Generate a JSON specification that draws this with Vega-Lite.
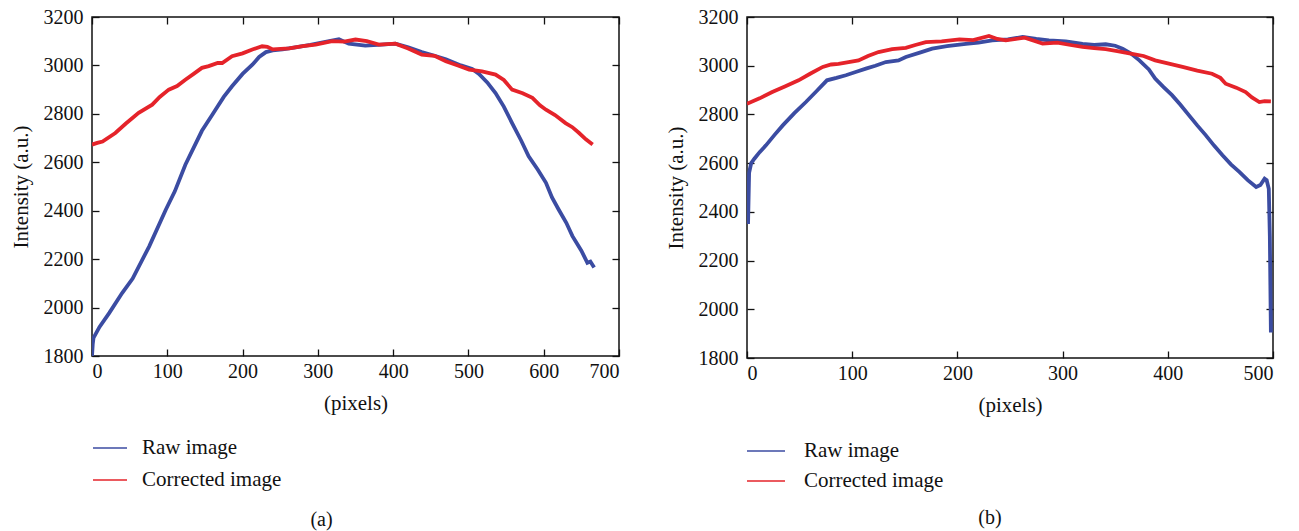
{
  "$schema": "https://vega.github.io/schema/vega-lite/v6.json",
  "padding": {"left": 9, "top": 6, "right": 5, "bottom": 0},
  "background": "white",
  "datasets": {
    "a": [
      {"x": 0, "y": 1800, "series": "Raw image"}, {"x": 1, "y": 1850, "series": "Raw image"}, {"x": 2, "y": 1875, "series": "Raw image"}, {"x": 10, "y": 1920, "series": "Raw image"}, {"x": 23, "y": 1978, "series": "Raw image"}, {"x": 40, "y": 2060, "series": "Raw image"}, {"x": 54, "y": 2120, "series": "Raw image"}, {"x": 76, "y": 2253, "series": "Raw image"}, {"x": 98, "y": 2404, "series": "Raw image"}, {"x": 110, "y": 2480, "series": "Raw image"}, {"x": 124, "y": 2590, "series": "Raw image"}, {"x": 146, "y": 2730, "series": "Raw image"}, {"x": 160, "y": 2797, "series": "Raw image"}, {"x": 175, "y": 2870, "series": "Raw image"}, {"x": 186, "y": 2914, "series": "Raw image"}, {"x": 200, "y": 2965, "series": "Raw image"}, {"x": 213, "y": 3003, "series": "Raw image"}, {"x": 222, "y": 3035, "series": "Raw image"}, {"x": 231, "y": 3055, "series": "Raw image"}, {"x": 240, "y": 3062, "series": "Raw image"}, {"x": 253, "y": 3066, "series": "Raw image"}, {"x": 270, "y": 3075, "series": "Raw image"}, {"x": 290, "y": 3085, "series": "Raw image"}, {"x": 315, "y": 3100, "series": "Raw image"}, {"x": 328, "y": 3108, "series": "Raw image"}, {"x": 341, "y": 3090, "series": "Raw image"}, {"x": 363, "y": 3082, "series": "Raw image"}, {"x": 385, "y": 3086, "series": "Raw image"}, {"x": 403, "y": 3090, "series": "Raw image"}, {"x": 420, "y": 3075, "series": "Raw image"}, {"x": 438, "y": 3055, "series": "Raw image"}, {"x": 455, "y": 3040, "series": "Raw image"}, {"x": 470, "y": 3025, "series": "Raw image"}, {"x": 490, "y": 3000, "series": "Raw image"}, {"x": 505, "y": 2985, "series": "Raw image"}, {"x": 514, "y": 2965, "series": "Raw image"}, {"x": 525, "y": 2930, "series": "Raw image"}, {"x": 536, "y": 2886, "series": "Raw image"}, {"x": 547, "y": 2830, "series": "Raw image"}, {"x": 558, "y": 2762, "series": "Raw image"}, {"x": 570, "y": 2690, "series": "Raw image"}, {"x": 580, "y": 2625, "series": "Raw image"}, {"x": 592, "y": 2570, "series": "Raw image"}, {"x": 603, "y": 2515, "series": "Raw image"}, {"x": 611, "y": 2455, "series": "Raw image"}, {"x": 620, "y": 2404, "series": "Raw image"}, {"x": 630, "y": 2350, "series": "Raw image"}, {"x": 638, "y": 2296, "series": "Raw image"}, {"x": 650, "y": 2235, "series": "Raw image"}, {"x": 658, "y": 2185, "series": "Raw image"}, {"x": 662, "y": 2190, "series": "Raw image"}, {"x": 667, "y": 2165, "series": "Raw image"},
      {"x": 0, "y": 2673, "series": "Corrected image"}, {"x": 7, "y": 2680, "series": "Corrected image"}, {"x": 14, "y": 2686, "series": "Corrected image"}, {"x": 31, "y": 2721, "series": "Corrected image"}, {"x": 45, "y": 2760, "series": "Corrected image"}, {"x": 62, "y": 2804, "series": "Corrected image"}, {"x": 80, "y": 2838, "series": "Corrected image"}, {"x": 90, "y": 2870, "series": "Corrected image"}, {"x": 102, "y": 2900, "series": "Corrected image"}, {"x": 113, "y": 2915, "series": "Corrected image"}, {"x": 124, "y": 2941, "series": "Corrected image"}, {"x": 135, "y": 2965, "series": "Corrected image"}, {"x": 146, "y": 2990, "series": "Corrected image"}, {"x": 155, "y": 2997, "series": "Corrected image"}, {"x": 167, "y": 3010, "series": "Corrected image"}, {"x": 173, "y": 3010, "series": "Corrected image"}, {"x": 186, "y": 3038, "series": "Corrected image"}, {"x": 200, "y": 3050, "series": "Corrected image"}, {"x": 213, "y": 3066, "series": "Corrected image"}, {"x": 226, "y": 3079, "series": "Corrected image"}, {"x": 233, "y": 3077, "series": "Corrected image"}, {"x": 240, "y": 3066, "series": "Corrected image"}, {"x": 262, "y": 3070, "series": "Corrected image"}, {"x": 280, "y": 3080, "series": "Corrected image"}, {"x": 297, "y": 3086, "series": "Corrected image"}, {"x": 319, "y": 3100, "series": "Corrected image"}, {"x": 335, "y": 3098, "series": "Corrected image"}, {"x": 350, "y": 3107, "series": "Corrected image"}, {"x": 365, "y": 3100, "series": "Corrected image"}, {"x": 381, "y": 3086, "series": "Corrected image"}, {"x": 403, "y": 3090, "series": "Corrected image"}, {"x": 420, "y": 3070, "series": "Corrected image"}, {"x": 438, "y": 3045, "series": "Corrected image"}, {"x": 455, "y": 3040, "series": "Corrected image"}, {"x": 470, "y": 3017, "series": "Corrected image"}, {"x": 486, "y": 3000, "series": "Corrected image"}, {"x": 501, "y": 2983, "series": "Corrected image"}, {"x": 518, "y": 2975, "series": "Corrected image"}, {"x": 536, "y": 2962, "series": "Corrected image"}, {"x": 547, "y": 2940, "series": "Corrected image"}, {"x": 558, "y": 2900, "series": "Corrected image"}, {"x": 572, "y": 2885, "series": "Corrected image"}, {"x": 585, "y": 2866, "series": "Corrected image"}, {"x": 595, "y": 2835, "series": "Corrected image"}, {"x": 603, "y": 2817, "series": "Corrected image"}, {"x": 615, "y": 2795, "series": "Corrected image"}, {"x": 629, "y": 2762, "series": "Corrected image"}, {"x": 638, "y": 2745, "series": "Corrected image"}, {"x": 647, "y": 2721, "series": "Corrected image"}, {"x": 656, "y": 2695, "series": "Corrected image"}, {"x": 665, "y": 2673, "series": "Corrected image"}
    ],
    "b": [
      {"x": 1, "y": 2350, "series": "Raw image"}, {"x": 2, "y": 2560, "series": "Raw image"}, {"x": 4, "y": 2600, "series": "Raw image"}, {"x": 7, "y": 2618, "series": "Raw image"}, {"x": 12, "y": 2645, "series": "Raw image"}, {"x": 18, "y": 2673, "series": "Raw image"}, {"x": 26, "y": 2715, "series": "Raw image"}, {"x": 34, "y": 2755, "series": "Raw image"}, {"x": 45, "y": 2805, "series": "Raw image"}, {"x": 56, "y": 2851, "series": "Raw image"}, {"x": 66, "y": 2895, "series": "Raw image"}, {"x": 76, "y": 2940, "series": "Raw image"}, {"x": 85, "y": 2950, "series": "Raw image"}, {"x": 94, "y": 2961, "series": "Raw image"}, {"x": 104, "y": 2975, "series": "Raw image"}, {"x": 113, "y": 2988, "series": "Raw image"}, {"x": 122, "y": 3000, "series": "Raw image"}, {"x": 132, "y": 3015, "series": "Raw image"}, {"x": 144, "y": 3022, "series": "Raw image"}, {"x": 151, "y": 3036, "series": "Raw image"}, {"x": 165, "y": 3055, "series": "Raw image"}, {"x": 176, "y": 3070, "series": "Raw image"}, {"x": 190, "y": 3080, "series": "Raw image"}, {"x": 208, "y": 3090, "series": "Raw image"}, {"x": 220, "y": 3095, "series": "Raw image"}, {"x": 233, "y": 3104, "series": "Raw image"}, {"x": 248, "y": 3108, "series": "Raw image"}, {"x": 262, "y": 3118, "series": "Raw image"}, {"x": 275, "y": 3110, "series": "Raw image"}, {"x": 287, "y": 3104, "series": "Raw image"}, {"x": 303, "y": 3100, "series": "Raw image"}, {"x": 319, "y": 3090, "series": "Raw image"}, {"x": 330, "y": 3085, "series": "Raw image"}, {"x": 341, "y": 3088, "series": "Raw image"}, {"x": 350, "y": 3082, "series": "Raw image"}, {"x": 357, "y": 3070, "series": "Raw image"}, {"x": 365, "y": 3050, "series": "Raw image"}, {"x": 373, "y": 3022, "series": "Raw image"}, {"x": 382, "y": 2985, "series": "Raw image"}, {"x": 388, "y": 2947, "series": "Raw image"}, {"x": 396, "y": 2912, "series": "Raw image"}, {"x": 404, "y": 2879, "series": "Raw image"}, {"x": 412, "y": 2840, "series": "Raw image"}, {"x": 420, "y": 2797, "series": "Raw image"}, {"x": 428, "y": 2755, "series": "Raw image"}, {"x": 436, "y": 2715, "series": "Raw image"}, {"x": 444, "y": 2672, "series": "Raw image"}, {"x": 452, "y": 2632, "series": "Raw image"}, {"x": 460, "y": 2595, "series": "Raw image"}, {"x": 468, "y": 2564, "series": "Raw image"}, {"x": 476, "y": 2530, "series": "Raw image"}, {"x": 484, "y": 2502, "series": "Raw image"}, {"x": 488, "y": 2510, "series": "Raw image"}, {"x": 492, "y": 2536, "series": "Raw image"}, {"x": 494, "y": 2530, "series": "Raw image"}, {"x": 496, "y": 2495, "series": "Raw image"}, {"x": 497, "y": 2300, "series": "Raw image"}, {"x": 497.5, "y": 2100, "series": "Raw image"}, {"x": 498, "y": 1905, "series": "Raw image"},
      {"x": 0, "y": 2844, "series": "Corrected image"}, {"x": 12, "y": 2866, "series": "Corrected image"}, {"x": 24, "y": 2892, "series": "Corrected image"}, {"x": 36, "y": 2915, "series": "Corrected image"}, {"x": 49, "y": 2940, "series": "Corrected image"}, {"x": 60, "y": 2967, "series": "Corrected image"}, {"x": 72, "y": 2995, "series": "Corrected image"}, {"x": 80, "y": 3005, "series": "Corrected image"}, {"x": 87, "y": 3008, "series": "Corrected image"}, {"x": 106, "y": 3022, "series": "Corrected image"}, {"x": 115, "y": 3040, "series": "Corrected image"}, {"x": 125, "y": 3056, "series": "Corrected image"}, {"x": 138, "y": 3068, "series": "Corrected image"}, {"x": 151, "y": 3073, "series": "Corrected image"}, {"x": 160, "y": 3085, "series": "Corrected image"}, {"x": 170, "y": 3097, "series": "Corrected image"}, {"x": 185, "y": 3100, "series": "Corrected image"}, {"x": 202, "y": 3108, "series": "Corrected image"}, {"x": 215, "y": 3105, "series": "Corrected image"}, {"x": 230, "y": 3122, "series": "Corrected image"}, {"x": 238, "y": 3110, "series": "Corrected image"}, {"x": 246, "y": 3104, "series": "Corrected image"}, {"x": 264, "y": 3115, "series": "Corrected image"}, {"x": 281, "y": 3091, "series": "Corrected image"}, {"x": 295, "y": 3095, "series": "Corrected image"}, {"x": 309, "y": 3084, "series": "Corrected image"}, {"x": 319, "y": 3077, "series": "Corrected image"}, {"x": 330, "y": 3072, "series": "Corrected image"}, {"x": 341, "y": 3068, "series": "Corrected image"}, {"x": 352, "y": 3060, "series": "Corrected image"}, {"x": 366, "y": 3049, "series": "Corrected image"}, {"x": 377, "y": 3040, "series": "Corrected image"}, {"x": 388, "y": 3022, "series": "Corrected image"}, {"x": 400, "y": 3010, "series": "Corrected image"}, {"x": 414, "y": 2995, "series": "Corrected image"}, {"x": 428, "y": 2980, "series": "Corrected image"}, {"x": 442, "y": 2967, "series": "Corrected image"}, {"x": 450, "y": 2950, "series": "Corrected image"}, {"x": 455, "y": 2926, "series": "Corrected image"}, {"x": 465, "y": 2910, "series": "Corrected image"}, {"x": 474, "y": 2892, "series": "Corrected image"}, {"x": 480, "y": 2870, "series": "Corrected image"}, {"x": 487, "y": 2851, "series": "Corrected image"}, {"x": 492, "y": 2855, "series": "Corrected image"}, {"x": 498, "y": 2854, "series": "Corrected image"}
    ]
  },
  "hconcat": [
    {
      "width": 527,
      "height": 339,
      "data": {"name": "a"},
      "title": {"text": "(a)", "orient": "bottom", "offset": 20, "dx": -34},
      "layer": [
        {
          "mark": {"type": "line", "strokeWidth": 3.8, "clip": true},
          "encoding": {
            "x": {"field": "x", "type": "quantitative", "scale": {"domain": [0, 700], "nice": false}, "axis": {"values": [0, 100, 200, 300, 400, 500, 600, 700], "format": "d", "title": "(pixels)", "titlePadding": 11}},
            "y": {"field": "y", "type": "quantitative", "scale": {"domain": [1800, 3200], "nice": false}, "axis": {"values": [1800, 2000, 2200, 2400, 2600, 2800, 3000, 3200], "format": "d", "title": "Intensity (a.u.)", "titlePadding": 12}},
            "color": {"field": "series", "type": "nominal", "sort": ["Raw image", "Corrected image"], "scale": {"domain": ["Raw image", "Corrected image"], "range": ["#3b4ca2", "#e5232a"]},
              "legend": {"orient": "none", "legendX": 0, "legendY": 413, "title": null, "symbolSize": 1156, "labelOffset": 14, "rowPadding": 4, "labelExpr": "datum.label == 'Raw image' ? '\u00a0Raw image' : datum.label"}}
          }
        },
        {
          "mark": {"type": "point", "opacity": 0},
          "encoding": {
            "x": {"field": "x", "type": "quantitative", "axis": {"orient": "top", "values": [0, 100, 200, 300, 400, 500, 600, 700], "labels": false, "title": null}},
            "y": {"field": "y", "type": "quantitative", "axis": {"orient": "right", "values": [1800, 2000, 2200, 2400, 2600, 2800, 3000, 3200], "labels": false, "title": null}}
          }
        }
      ],
      "resolve": {"axis": {"x": "independent", "y": "independent"}}
    },
    {
      "width": 526,
      "height": 341,
      "data": {"name": "b"},
      "title": {"text": "(b)", "orient": "bottom", "offset": 17, "dx": -20},
      "layer": [
        {
          "mark": {"type": "line", "strokeWidth": 3.8, "clip": true},
          "encoding": {
            "x": {"field": "x", "type": "quantitative", "scale": {"domain": [0, 500], "nice": false}, "axis": {"values": [0, 100, 200, 300, 400, 500], "format": "d", "title": "(pixels)", "titlePadding": 11}},
            "y": {"field": "y", "type": "quantitative", "scale": {"domain": [1800, 3200], "nice": false}, "axis": {"values": [1800, 2000, 2200, 2400, 2600, 2800, 3000, 3200], "format": "d", "title": "Intensity (a.u.)", "titlePadding": 12}},
            "color": {"field": "series", "type": "nominal", "sort": ["Raw image", "Corrected image"], "scale": {"domain": ["Raw image", "Corrected image"], "range": ["#3b4ca2", "#e5232a"]},
              "legend": {"orient": "none", "legendX": -1, "legendY": 414, "title": null, "symbolSize": 1444, "labelOffset": 18, "rowPadding": -16}}
          }
        },
        {
          "mark": {"type": "point", "opacity": 0},
          "encoding": {
            "x": {"field": "x", "type": "quantitative", "axis": {"orient": "top", "values": [0, 100, 200, 300, 400, 500], "labels": false, "title": null}},
            "y": {"field": "y", "type": "quantitative", "axis": {"orient": "right", "values": [1800, 2000, 2200, 2400, 2600, 2800, 3000, 3200], "labels": false, "title": null}}
          }
        }
      ],
      "resolve": {"axis": {"x": "independent", "y": "independent"}}
    }
  ],
  "spacing": 43,
  "resolve": {"scale": {"color": "independent"}, "legend": {"color": "independent"}},
  "config": {
    "font": "Liberation Serif",
    "view": {"stroke": "#111", "strokeWidth": 1.5},
    "axis": {"labelFont": "Liberation Serif", "labelFontSize": 20, "labelColor": "#111", "titleFont": "Liberation Serif", "titleFontSize": 21, "titleFontWeight": "normal", "titleColor": "#111", "grid": false, "domain": false, "tickColor": "#111", "tickSize": -7, "tickWidth": 1.3},
    "axisX": {"labelPadding": 12},
    "axisY": {"labelPadding": 16},
    "legend": {"labelFont": "Liberation Serif", "labelFontSize": 21, "labelColor": "#111", "symbolType": "stroke", "symbolStrokeWidth": 2, "symbolOpacity": 0.75},
    "title": {"font": "Liberation Serif", "fontSize": 20, "fontWeight": "normal", "color": "#111"}
  }
}
